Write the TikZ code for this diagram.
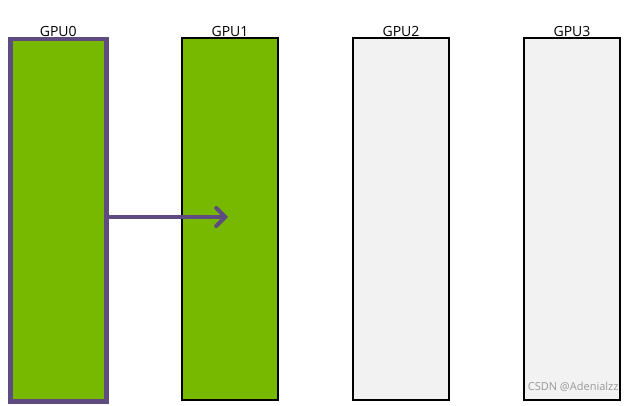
\documentclass[tikz,border=0pt]{standalone}
\usepackage{fontspec}
\setmainfont{Open Sans}
\usetikzlibrary{arrows.meta}
\definecolor{nvgreen}{HTML}{76B900}
\definecolor{purp}{HTML}{5E4B80}
\definecolor{lgray}{HTML}{F2F2F2}
\begin{document}
\begin{tikzpicture}[x=1pt,y=-1pt,
  bar/.style={draw=black,line width=2pt,minimum width=96pt,minimum height=362pt,anchor=north west,inner sep=0pt},
  lab/.style={font=\fontsize{14}{16}\selectfont,anchor=south}]
\useasboundingbox (0,0) rectangle (626,406);
\node[bar,fill=nvgreen,draw=purp,line width=4.5pt] (g0) at (8,37) {};
\node[bar,fill=nvgreen] (g1) at (181,37) {};
\node[bar,fill=lgray] (g2) at (352,37) {};
\node[bar,fill=lgray] (g3) at (523,37) {};
\foreach \i in {0,1,2,3} \node[lab] (l\i) at ([yshift=-3pt]g\i.north) {GPU\i};
\coordinate (e) at (228,217);
\draw[purp,line width=4pt,-{Straight Barb[length=9pt,width=18pt,line cap=round]}] (g0.east|-e) -- (e);
\node[font=\fontsize{11}{13}\selectfont,text=gray!80,anchor=east] (wm) at (622,387) {CSDN @Adenialzz};
\end{tikzpicture}
\end{document}
